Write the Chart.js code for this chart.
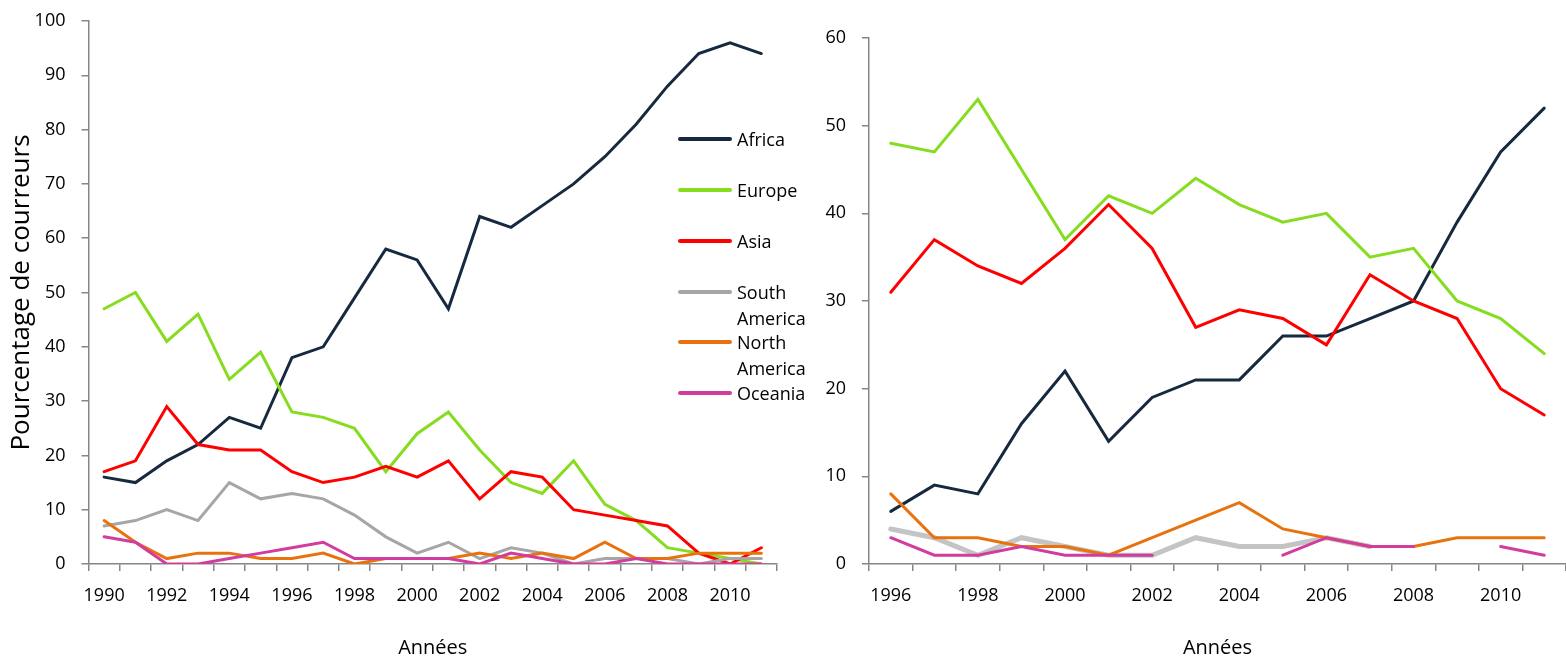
<!DOCTYPE html>
<html>
<head>
<meta charset="utf-8">
<script src="https://cdn.jsdelivr.net/npm/chart.js@4.4.1/dist/chart.umd.min.js"></script>
<style>
  body { margin: 0; background: #fff; }
  #wrap { position: relative; width: 1566px; height: 660px; overflow: hidden; }
  #left-chart { position: absolute; left: 0; top: 0; }
  #right-chart { position: absolute; left: 790px; top: 0; }
  #legend { position: absolute; left: 678px; top: 0; font-family: 'Open Sans', sans-serif; font-size: 18px; color: #000; }
  .entry { position: absolute; left: 0; width: 140px; }
  .entry .swatch { position: absolute; left: 0; top: 11px; width: 54px; height: 4px; border-radius: 2px; }
  .entry .name { position: absolute; left: 59px; top: 0; width: 78px; line-height: 26px; }
</style>
</head>
<body>
<div id="wrap">
  <canvas id="left-chart" width="800" height="660"></canvas>
  <canvas id="right-chart" width="776" height="660"></canvas>
  <div id="legend"></div>
</div>
<script>
// ---- data ----
const regions = ['Africa', 'Europe', 'Asia', 'South America', 'North America', 'Oceania'];
const regionColors = ['#17293F', '#86DC1E', '#FF0000', '#A6A6A6', '#E8730E', '#D23C9E'];

const leftYears = ['1990', '1991', '1992', '1993', '1994', '1995', '1996', '1997', '1998', '1999', '2000',
                   '2001', '2002', '2003', '2004', '2005', '2006', '2007', '2008', '2009', '2010', '2011'];
const leftAfrica   = [16, 15, 19, 22, 27, 25, 38, 40, 49, 58, 56, 47, 64, 62, 66, 70, 75, 81, 88, 94, 96, 94];
const leftEurope   = [47, 50, 41, 46, 34, 39, 28, 27, 25, 17, 24, 28, 21, 15, 13, 19, 11, 8, 3, 2, 1, 0];
const leftAsia     = [17, 19, 29, 22, 21, 21, 17, 15, 16, 18, 16, 19, 12, 17, 16, 10, 9, 8, 7, 2, 0, 3];
const leftSouthAm  = [7, 8, 10, 8, 15, 12, 13, 12, 9, 5, 2, 4, 1, 3, 2, 0, 1, 1, 1, 0, 1, 1];
const leftNorthAm  = [8, 4, 1, 2, 2, 1, 1, 2, 0, 1, 1, 1, 2, 1, 2, 1, 4, 1, 1, 2, 2, 2];
const leftOceania  = [5, 4, 0, 0, 1, 2, 3, 4, 1, 1, 1, 1, 0, 2, 1, 0, 0, 1, 0, 0, 0, 0];

const rightYears = ['1996', '1997', '1998', '1999', '2000', '2001', '2002', '2003',
                    '2004', '2005', '2006', '2007', '2008', '2009', '2010', '2011'];
const rightAfrica  = [6, 9, 8, 16, 22, 14, 19, 21, 21, 26, 26, 28, 30, 39, 47, 52];
const rightEurope  = [48, 47, 53, 45, 37, 42, 40, 44, 41, 39, 40, 35, 36, 30, 28, 24];
const rightAsia    = [31, 37, 34, 32, 36, 41, 36, 27, 29, 28, 25, 33, 30, 28, 20, 17];
const rightSouthAm = [4, 3, 1, 3, 2, 1, 1, 3, 2, 2, 3, 2, null, null, null, null];
const rightNorthAm = [8, 3, 3, 2, 2, 1, 3, 5, 7, 4, 3, 2, 2, 3, 3, 3];
const rightOceania = [3, 1, 1, 2, 1, 1, 1, null, null, 1, 3, 2, 2, null, 2, 1];

const leftTicksY = { min: 0, max: 100, step: 10 };
const rightTicksY = { min: 0, max: 60, step: 10 };

// ---- shared styling ----
Chart.defaults.font.family = "'Open Sans', sans-serif";
Chart.defaults.font.size = 18;
Chart.defaults.color = '#000';

const AXIS_GREY = '#868686';

function makeDatasets(series, greyWidth, greyColor) {
  return series.map((data, i) => ({
    label: regions[i],
    data: data,
    borderColor: i === 3 ? greyColor : regionColors[i],
    borderWidth: i === 3 ? greyWidth : 3,
    pointRadius: 0,
    pointHoverRadius: 0,
    tension: 0,
    fill: false,
    spanGaps: false,
    borderCapStyle: 'round',
    borderJoinStyle: 'miter',
    order: series.length - i   // later regions sit on top
  }));
}

function makeOptions(yRange, yWidth, pad, yTitle) {
  return {
    responsive: false,
    animation: false,
    layout: { padding: pad },
    plugins: {
      legend: { display: false },
      tooltip: { enabled: false }
    },
    scales: {
      x: {
        type: 'category',
        offset: true,
        grid: {
          offset: true,
          drawOnChartArea: false,
          drawTicks: true,
          tickLength: 7,
          color: AXIS_GREY,
          lineWidth: 1.5
        },
        border: { display: true, color: AXIS_GREY, width: 1.5 },
        ticks: {
          autoSkip: false,
          maxRotation: 0,
          padding: 14,
          callback: function (value, index) {
            return index % 2 === 0 ? this.getLabelForValue(value) : '';
          }
        },
        title: {
          display: true,
          text: 'Années',
          font: { size: 20 },
          padding: { top: 0, bottom: 0 }
        },
        afterFit: scale => { scale.height = 96; }
      },
      y: {
        min: yRange.min,
        max: yRange.max,
        grid: {
          drawOnChartArea: false,
          drawTicks: true,
          tickLength: 7,
          color: AXIS_GREY,
          lineWidth: 1.5
        },
        border: { display: true, color: AXIS_GREY, width: 1.5 },
        ticks: { stepSize: yRange.step, padding: 16 },
        title: {
          display: !!yTitle,
          text: yTitle || '',
          font: { size: 26 },
          padding: { top: 6, bottom: 0 }
        },
        afterFit: scale => {
          scale.width = yWidth;
          // the label gap shouldn't push the plot top down
          scale.paddingTop = 12;
          scale.paddingBottom = 12;
        }
      }
    }
  };
}

new Chart(document.getElementById('left-chart'), {
  type: 'line',
  data: {
    labels: leftYears,
    datasets: makeDatasets(
      [leftAfrica, leftEurope, leftAsia, leftSouthAm, leftNorthAm, leftOceania],
      3, '#A6A6A6')
  },
  options: makeOptions(leftTicksY, 88.5, { top: 21, right: 23, bottom: 0, left: 0 },
                       'Pourcentage de courreurs')
});

new Chart(document.getElementById('right-chart'), {
  type: 'line',
  data: {
    labels: rightYears,
    datasets: makeDatasets(
      [rightAfrica, rightEurope, rightAsia, rightSouthAm, rightNorthAm, rightOceania],
      5, '#C4C4C4')
  },
  options: makeOptions(rightTicksY, 79, { top: 38, right: 0, bottom: 0, left: 0 }, null)
});

// ---- legend (sits over the left plot) ----
const legendTops = [126, 177, 228, 279, 329, 380];
const legendEl = document.getElementById('legend');
regions.forEach((name, i) => {
  const row = document.createElement('div');
  row.className = 'entry';
  row.style.top = legendTops[i] + 'px';
  const sw = document.createElement('div');
  sw.className = 'swatch';
  sw.style.background = regionColors[i];
  const txt = document.createElement('div');
  txt.className = 'name';
  txt.textContent = name;
  row.appendChild(sw);
  row.appendChild(txt);
  legendEl.appendChild(row);
});
</script>
</body>
</html>
